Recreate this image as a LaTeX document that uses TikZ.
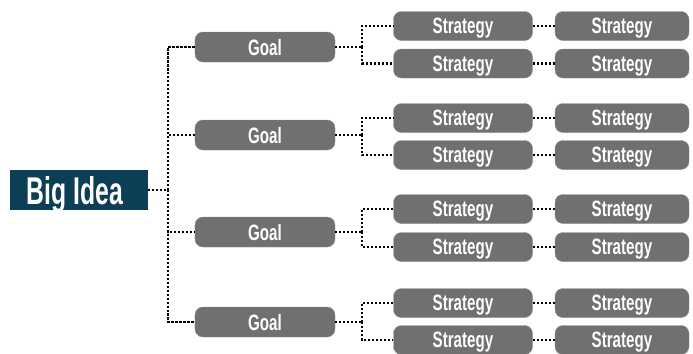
\documentclass[tikz,border=0pt]{standalone}
\usepackage{fontspec}
\usepackage{xcolor}
\usepackage{tikz}
\usetikzlibrary{positioning}
\setmainfont{Liberation Sans}[FakeStretch=0.68]
\newfontfamily\ideafont{Liberation Sans}[FakeStretch=0.64]
\definecolor{BIDark}{HTML}{0C3E56}
\definecolor{BIGray}{HTML}{707070}

\begin{document}
\begin{tikzpicture}[
        x=0.03cm,y=-0.03cm,
        every node/.style={font=\bfseries\fontsize{19}{22}\selectfont,text=white},
        idea/.style={fill=BIDark,minimum width=4.14cm,minimum height=1.2cm,inner sep=0pt,text depth=0pt,font=\ideafont\bfseries\fontsize{33}{36}\selectfont},
        goalbox/.style={rounded corners=0.24cm,fill=BIGray,draw=BIGray!80,minimum width=4.2cm,minimum height=0.9cm,inner sep=0pt,text depth=0pt},
        stratbox/.style={rounded corners=0.24cm,fill=BIGray,draw=BIGray!80,minimum width=4.17cm,minimum height=0.87cm,inner sep=0pt,text depth=0pt},
        link/.style={draw=black,line width=1.9pt,dash pattern=on 1.9pt off 1.5pt}
      ]
      \useasboundingbox (0,0) rectangle (693,353);

      \node[idea] (bigidea) at (79,190) {\hspace*{-7pt}Big Idea};
      \draw[link] (bigidea.east) -- (168,190) coordinate (spine);

      % goal row: name / goal y / first strategy y / second strategy y
      \foreach \g/\gy/\sa/\sb in {1/47/26/63.5, 2/135/118/155, 3/232/209/247, 4/322/303/340}{
        \node[goalbox] (goal\g) at (265,\gy) {Goal};
        \node[stratbox] (strat\g a) at (463,\sa) {Strategy};
        \node[stratbox] (strat\g b) at (463,\sb) {Strategy};
        \node[stratbox,minimum width=4.02cm] (next\g a) at (622,\sa) {Strategy};
        \node[stratbox,minimum width=4.02cm] (next\g b) at (622,\sb) {Strategy};

        \draw[link] (spine) |- (goal\g.west);
        \draw[link] (goal\g.east) -- ++(27,0) coordinate (fork\g);
        \draw[link] (fork\g) |- (strat\g a.west);
        \draw[link] (fork\g) |- (strat\g b.west);
        \draw[link] (strat\g a) -- (next\g a);
        \draw[link] (strat\g b) -- (next\g b);
      }
    \end{tikzpicture}
\end{document}
